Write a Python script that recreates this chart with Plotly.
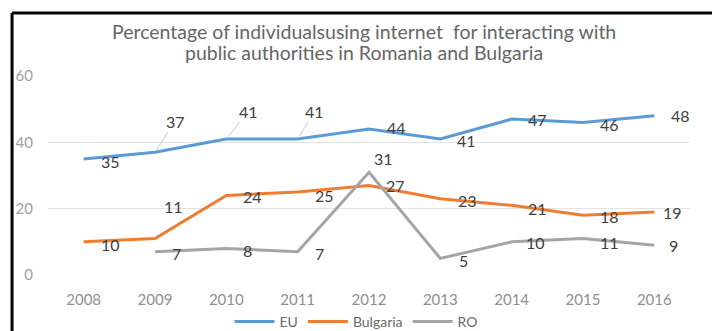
import plotly.graph_objects as go

years = ["2008", "2009", "2010", "2011", "2012", "2013", "2014", "2015", "2016"]
eu = [35, 37, 41, 41, 44, 41, 47, 46, 48]
bulgaria = [10, 11, 24, 25, 27, 23, 21, 18, 19]
ro = [None, 7, 8, 7, 31, 5, 10, 11, 9]

series_names = ["EU", "Bulgaria", "RO"]
colors = ["#5B9BD5", "#ED7D31", "#A5A5A5"]
title_lines = ["Percentage of individualsusing internet  for interacting with",
               "public authorities in Romania and Bulgaria"]

# label offsets in pixels (dx, dy-down, leader line?)
eu_off = [(27, 3, 0), (20, -31, 1), (22, -28, 1), (17, -28, 1), (27, -2, 0),
          (26, 1, 0), (26, 0, 0), (26, 2, 0), (26, 0, 0)]
bg_off = [(27, 3, 0), (18, -32, 0), (26, 1, 0), (27, 3, 0), (26, 0, 0),
          (27, 2, 0), (26, 3, 0), (26, 1, 0), (18, 1, 0)]
ro_off = [None, (21, 2, 0), (21, 2, 0), (22, 2, 0), (14, -14, 0),
          (23, 2, 0), (24, 1, 0), (26, 4, 0), (19, 0, 0)]

xs = list(range(len(years)))
LABEL_FONT = dict(family="Lato", size=16, color="#404040")

fig = go.Figure()
annotations = []
for name, vals, col, offs in zip(series_names, [eu, bulgaria, ro], colors, [eu_off, bg_off, ro_off]):
    fig.add_trace(go.Scatter(x=xs, y=vals, mode="lines", name=name,
                             line=dict(color=col, width=3), connectgaps=False))
    for i, v in enumerate(vals):
        if v is None:
            continue
        dx, dy, lead = offs[i]
        if lead:
            annotations.append(dict(x=xs[i], y=v, text=str(v), showarrow=True,
                                    ax=dx, ay=dy, arrowhead=0, arrowwidth=1,
                                    arrowcolor="#c8c8c8", standoff=3, font=LABEL_FONT))
        else:
            annotations.append(dict(x=xs[i], y=v, text=str(v), showarrow=False,
                                    xshift=dx, yshift=-dy, xanchor="center", yanchor="middle",
                                    font=LABEL_FONT))

# two-line chart title (tight line spacing); plot area: y px 76 -> paper 1, 275 -> 0
for txt, ypx in zip(title_lines, [31.5, 52.5]):
    annotations.append(dict(text=txt, xref="paper", yref="paper", x=0.492,
                            y=(275 - ypx) / 199,
                            xanchor="center", yanchor="middle", showarrow=False,
                            font=dict(family="Lato", size=19.5, color="#666666")))

# border (top and left black frame)
shapes = [
    dict(type="line", xref="paper", yref="paper", x0=-0.056, x1=1.05, y0=1.3166, y1=1.3166,
         line=dict(color="black", width=3), layer="above"),
    dict(type="line", xref="paper", yref="paper", x0=-0.056, x1=-0.056, y0=1.3166, y1=-0.3,
         line=dict(color="black", width=3), layer="above"),
]

fig.update_layout(
    width=712, height=331,
    margin=dict(l=48, r=22, t=76, b=56, autoexpand=False),
    paper_bgcolor="white", plot_bgcolor="white",
    font=dict(family="Lato", color="#595959"),
    xaxis=dict(tickmode="array", tickvals=xs, ticktext=years, range=[-0.5, 8.5],
               showgrid=False, zeroline=False, showline=False, ticks="", automargin=False,
               tickfont=dict(size=15, color="#8f8f8f"), ticklabelstandoff=14),
    yaxis=dict(range=[0, 60], dtick=20, showgrid=True, gridcolor="#e3e3e3", gridwidth=1,
               zeroline=False, showline=False, ticks="", automargin=False,
               tickfont=dict(size=15, color="#a0a0a0"), ticklabelstandoff=14),
    legend=dict(orientation="h", x=0.5, xanchor="center", xref="container",
                y=9 / 331, yanchor="middle", yref="container",
                font=dict(size=14, color="#6a6a6a"), itemwidth=40, bgcolor="rgba(0,0,0,0)"),
    annotations=annotations,
    shapes=shapes,
)

fig.write_html("out.html")
